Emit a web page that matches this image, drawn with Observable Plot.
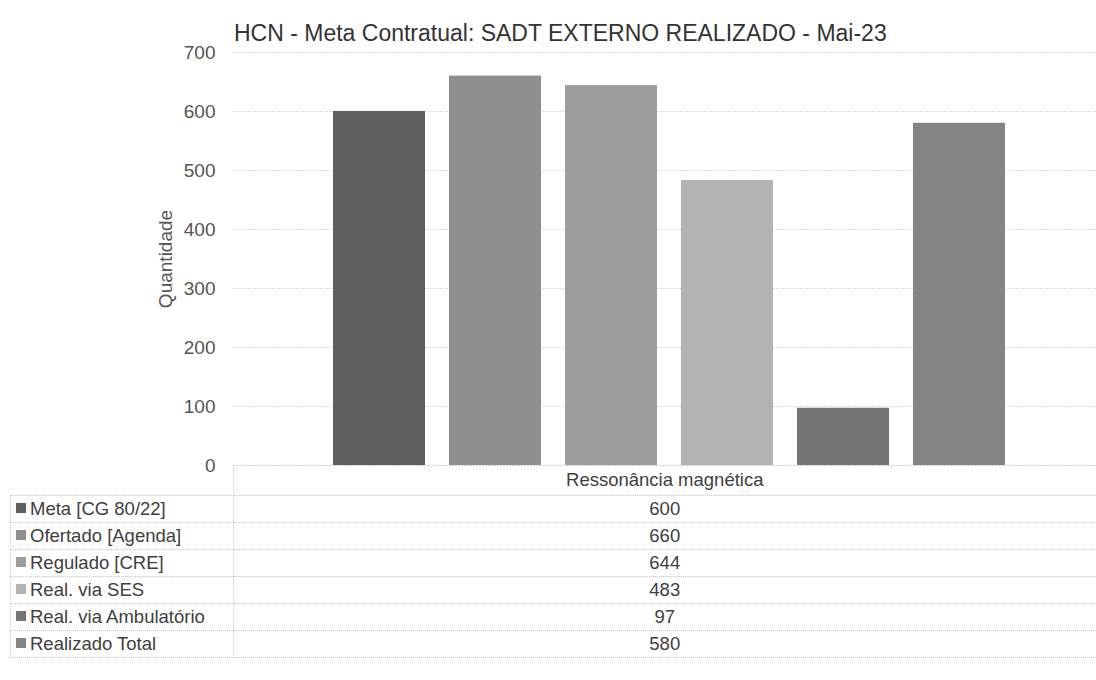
<!DOCTYPE html>
<html>
<head>
<meta charset="utf-8">
<script src="https://cdn.jsdelivr.net/npm/d3@7"></script>
<script src="https://cdn.jsdelivr.net/npm/@observablehq/plot@0.6"></script>
<style>
  html, body { margin: 0; padding: 0; background: #fff; }
  body { width: 1096px; height: 680px; overflow: hidden; position: relative; font-family: "Liberation Sans", Arial, sans-serif; color: #404040; }
  #title { position: absolute; left: 234px; top: 19px; font-size: 23px; line-height: 28px; color: #333; white-space: nowrap; }
  #chart { position: absolute; left: 0; top: 35px; }
  #table { position: absolute; left: 10px; top: 465px; width: 1086px; }
  table { border-collapse: collapse; font-size: 18.5px; color: #404040; table-layout: fixed; width: 1086px; }
  td { height: 26px; padding: 0; border: 1px dotted #c8c8c8; line-height: 22px; }
  td.lab { width: 217px; padding-left: 5px; text-align: left; white-space: nowrap; }
  td.val { text-align: center; border-right: none; }
  td.blank { border: none; border-right: 1px dotted #c8c8c8; border-bottom: 1px dotted #c8c8c8; }
  .mk { display: inline-block; width: 10px; height: 10px; margin-right: 4px; vertical-align: 2px; }
</style>
</head>
<body>
<div id="title"></div>
<div id="chart"></div>
<div id="table"></div>
<script>
const titleText = "HCN - Meta Contratual: SADT EXTERNO REALIZADO - Mai-23";
const category = "Ressonância magnética";
const series = ["Meta [CG 80/22]", "Ofertado [Agenda]", "Regulado [CRE]", "Real. via SES", "Real. via Ambulatório", "Realizado Total"];
const values = [600, 660, 644, 483, 97, 580];
const colors = ["#5e5e5e", "#8f8f8f", "#9d9d9d", "#b3b3b3", "#747474", "#848484"];
const yTicks = [0, 100, 200, 300, 400, 500, 600, 700];
const yLabel = "Quantidade";

const data = series.map((s, i) => ({series: s, value: values[i]}));

document.getElementById("title").textContent = titleText;

const chart = Plot.plot({
  width: 1096,
  height: 450,
  marginTop: 17,
  marginBottom: 20,
  marginLeft: 233,
  marginRight: 0,
  style: {fontFamily: "'Liberation Sans', Arial, sans-serif", fontSize: "19px", color: "#555", background: "transparent", overflow: "visible"},
  x: {domain: series, range: [307, 1031], padding: 0.21, axis: null},
  y: {domain: [0, 700], ticks: yTicks, label: null},
  color: {domain: series, range: colors},
  marks: [
    Plot.gridY(yTicks.filter(d => d > 0), {stroke: "#dcdcdc", strokeOpacity: 1, strokeDasharray: "2,1"}),
    Plot.axisY(yTicks, {tickSize: 0, tickPadding: 18, label: null, fontSize: 19, fill: "#555"}),
    Plot.barY(data, {x: "series", y: "value", fill: "series"}),
    Plot.ruleY([0], {stroke: "#cfcfcf", strokeDasharray: "2,1"}),
    Plot.text([yLabel], {frameAnchor: "left", textAnchor: "middle", rotate: -90, dx: -68, fontSize: 19, fill: "#555"})
  ]
});
document.getElementById("chart").appendChild(chart);

// data table (legend + values)
const tbl = document.createElement("table");
const head = tbl.insertRow();
const b = head.insertCell(); b.className = "blank lab";
const h = head.insertCell(); h.className = "val"; h.textContent = category; h.style.height = "30px"; h.style.borderTop = "none";
series.forEach((s, i) => {
  const r = tbl.insertRow();
  const l = r.insertCell(); l.className = "lab";
  const mk = document.createElement("span"); mk.className = "mk"; mk.style.background = colors[i];
  l.appendChild(mk); l.appendChild(document.createTextNode(s));
  const v = r.insertCell(); v.className = "val"; v.textContent = values[i];
});
document.getElementById("table").appendChild(tbl);
</script>
</body>
</html>
